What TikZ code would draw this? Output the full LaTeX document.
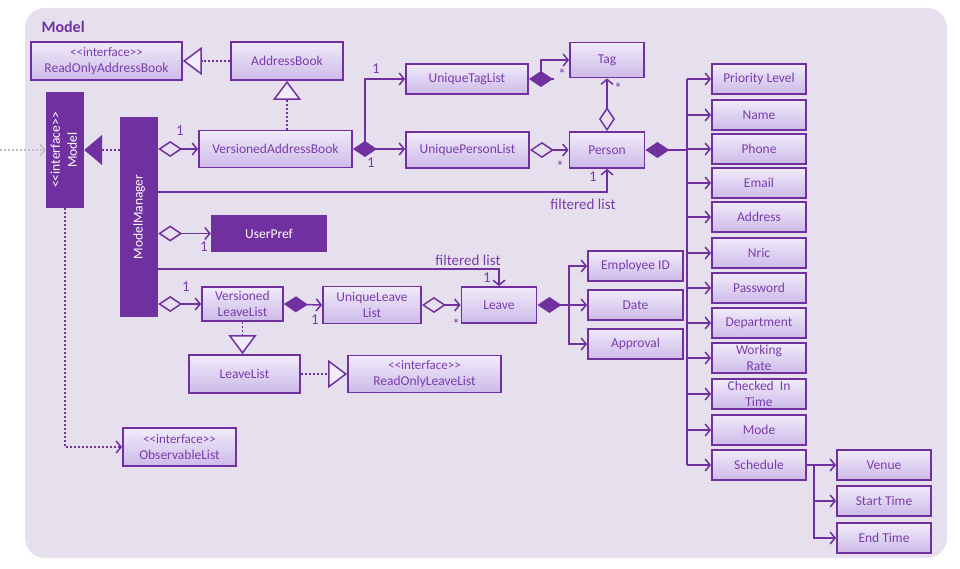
\documentclass[tikz,border=0pt]{standalone}
\usepackage{fontspec}
\setmainfont{Carlito}[Ligatures=TeXOff]
\usepackage{graphicx}
\usetikzlibrary{arrows.meta}

\definecolor{umlpurple}{RGB}{112,48,160}
\definecolor{umltext}{RGB}{122,62,172}
\definecolor{boxtop}{RGB}{241,235,250}
\definecolor{boxbot}{RGB}{204,186,232}
\definecolor{panel}{RGB}{230,224,238}
\definecolor{outgrey}{RGB}{190,190,190}

\newcommand\umlstereo[1]{{\fontsize{13}{16}\selectfont #1}}

\begin{document}
\begin{tikzpicture}
      [%%%%%%%%%%%%%%%%%%%%%%%%%%%%%%
      x=1pt,y=-1pt,
      box/.style={rectangle,draw=umlpurple,line width=1.8pt,top color=boxtop,bottom color=boxbot,
        text=umltext,inner sep=0pt,align=center,font=\fontsize{13.5}{16}\selectfont},
      darkbox/.style={rectangle,fill=umlpurple,text=white,inner sep=0pt,align=center,
        font=\fontsize{13.5}{17}\selectfont},
      attr/.style={box,minimum width=94pt,minimum height=30pt},
      lbl/.style={text=umltext,inner sep=0pt,font=\fontsize{15}{17}\selectfont},
      wire/.style={draw=umlpurple,line width=1.5pt},
      link/.style={wire,-{Straight Barb[length=5pt,width=12pt]}},
      agg/.style={wire,{Diamond[open,length=24pt,width=16pt]}-{Straight Barb[length=5pt,width=12pt]}},
      comp/.style={wire,{Diamond[length=24pt,width=16pt]}-{Straight Barb[length=5pt,width=12pt]}},
      compline/.style={wire,{Diamond[length=24pt,width=16pt]}-},
      real/.style={wire,dash pattern=on 2pt off 2pt,-{Triangle[length=19pt,width=28pt,fill=boxtop]}},
      implfill/.style={wire,dash pattern=on 2pt off 2pt,-{Triangle[length=18pt,width=30pt]}},
      dep/.style={wire,dash pattern=on 2pt off 2pt,-{Straight Barb[length=5pt,width=12pt]}},
      ]%%%%%%%%%%%%%%%%%%%%%%%%%%%%%%

      \useasboundingbox (0,0) rectangle (960,569);
      \fill[panel,rounded corners=20pt] (25,8) rectangle (947,558);
      \node[anchor=west,text=umlpurple,font=\bfseries\fontsize{16}{18}\selectfont] (title) at (38,27) {Model};

      % address book side
      \node[box,minimum width=151pt,minimum height=38pt] (roab) at (106.5,61) {\umlstereo{<<interface>>}\\ReadOnlyAddressBook};
      \node[box,minimum width=112pt,minimum height=38pt] (ab) at (287,61) {AddressBook};
      \node[box,minimum width=153pt,minimum height=37pt] (vab) at (275.5,149) {VersionedAddressBook};
      \node[box,minimum width=122pt,minimum height=30pt] (utl) at (467,79) {UniqueTagList};
      \node[box,minimum width=123pt,minimum height=36pt] (upl) at (467.5,150) {UniquePersonList};
      \node[box,minimum width=74pt,minimum height=35pt] (tag) at (607,60) {Tag};
      \node[box,minimum width=75pt,minimum height=36pt] (person) at (607,150) {Person};

      \node[darkbox,minimum width=38pt,minimum height=116pt] (model) at (65,150)
        {\rotatebox{90}{\begin{tabular}{@{}c@{}}<<interface>>\\Model\end{tabular}}};
      \node[darkbox,minimum width=38pt,minimum height=200pt] (mm) at (139,217) {\rotatebox{90}{ModelManager}};
      \node[darkbox,minimum width=116pt,minimum height=37pt] (up) at (269,233.5) {UserPref};
      \node[box,minimum width=113pt,minimum height=38pt] (ol) at (179.5,447) {\umlstereo{<<interface>>}\\ObservableList};

      % leave side
      \node[box,minimum width=81pt,minimum height=34pt] (vll) at (242.5,304) {Versioned\\LeaveList};
      \node[box,minimum width=98pt,minimum height=37pt] (ull) at (372,305) {UniqueLeave\\List};
      \node[box,minimum width=75pt,minimum height=36pt] (leave) at (499,305) {Leave};
      \node[box,minimum width=95pt,minimum height=30pt] (eid) at (635.5,266) {Employee ID};
      \node[box,minimum width=95pt,minimum height=30pt] (date) at (635.5,305) {Date};
      \node[box,minimum width=95pt,minimum height=30pt] (appr) at (635.5,344) {Approval};
      \node[box,minimum width=111pt,minimum height=38pt] (ll) at (244.5,374) {LeaveList};
      \node[box,minimum width=153pt,minimum height=37pt] (roll) at (424.5,374) {\umlstereo{<<interface>>}\\ReadOnlyLeaveList};

      % person attributes
      \foreach \id/\txt/\yy in {pl/Priority Level/79, nm/Name/115, ph/Phone/149, em/Email/183,
          ad/Address/217, nr/Nric/253, pw/Password/288, dp/Department/323, wr/{Working\\Rate}/358,
          ci/{Checked~~In\\Time}/394, md/Mode/430, sc/Schedule/465}
        \node[attr] (\id) at (759,\yy) {\txt};
      \node[attr] (ven) at (884,465) {Venue};
      \node[attr] (st) at (884,501) {Start Time};
      \node[attr] (et) at (884,538) {End Time};

      % connectors
      \coordinate (outside) at (0,150);
      \draw[draw=outgrey,line width=1.5pt,dash pattern=on 2pt off 2pt,-{Straight Barb[length=5pt,width=12pt]}] (outside) -- (model.west);
      \draw[real] (ab.west) -- (roab.east);
      \draw[real] (ab.south |- vab.north) -- (ab.south);
      \draw[implfill] (mm.west |- model.east) -- (model.east);
      \draw[dep] (model.south) |- (ol.west);

      \draw[agg] (mm.east |- vab.west) -- (vab.west);
      \draw[link] (mm.east |- 0,192) -| (person.south);
      \draw[agg] (mm.east |- up.west) -- (up.west);
      \draw[link] (mm.east |- 0,269) -| (leave.north);
      \draw[agg] (mm.east |- vll.west) -- (vll.west);

      \draw[comp] (vab.east) -- (upl.west |- vab.east);
      \draw[link] ([xshift=12pt]vab.east) |- (utl.west);
      \draw[compline] (utl.east) -- ++(25,0);
      \draw[link] ([xshift=12pt]utl.east) |- (tag.west);
      \draw[agg] (person.north) -- (tag.south);
      \draw[agg] (upl.east) -- (person.west);

      \coordinate (bus) at ([xshift=-24pt]pl.west);
      \draw[compline] (person.east) -- (bus |- person.east);
      \draw[wire] (bus) -- (bus |- sc.west);
      \foreach \id in {pl,nm,ph,em,ad,nr,pw,dp,wr,ci,md,sc}
        \draw[link] (bus |- \id.west) -- (\id.west);
      \coordinate (sbus) at ([xshift=7pt]sc.east);
      \draw[link] (sc.east) -- (ven.west);
      \draw[link] (sbus) |- (st.west);
      \draw[link] (sbus) |- (et.west);

      \draw[comp] (vll.east) -- (ull.west);
      \draw[agg] (ull.east) -- (leave.west);
      \draw[comp] (leave.east) -- (date.west);
      \coordinate (lbus) at ([xshift=-18pt]date.west);
      \draw[link] (lbus) |- (eid.west);
      \draw[link] (lbus) |- (appr.west);
      \draw[real] (vll.south) -- (vll.south |- ll.north);
      \draw[real] (ll.east) -- (roll.west);

      % multiplicities
      \node[lbl] (m1) at (180,131) {1};
      \node[lbl] (m2) at (376,69) {1};
      \node[lbl] (m3) at (371,163) {1};
      \node[lbl] (m4) at (562,74) {*};
      \node[lbl] (m5) at (618,88) {*};
      \node[lbl] (m6) at (560,166) {*};
      \node[lbl] (m7) at (593,177) {1};
      \node[lbl] (fl1) at (583,204) {filtered list};
      \node[lbl] (m8) at (204,247) {1};
      \node[lbl] (fl2) at (468,260) {filtered list};
      \node[lbl] (m9) at (487,278) {1};
      \node[lbl] (m10) at (186,287) {1};
      \node[lbl] (m11) at (315,320) {1};
      \node[lbl] (m12) at (456,324) {*};
    \end{tikzpicture}
\end{document}
